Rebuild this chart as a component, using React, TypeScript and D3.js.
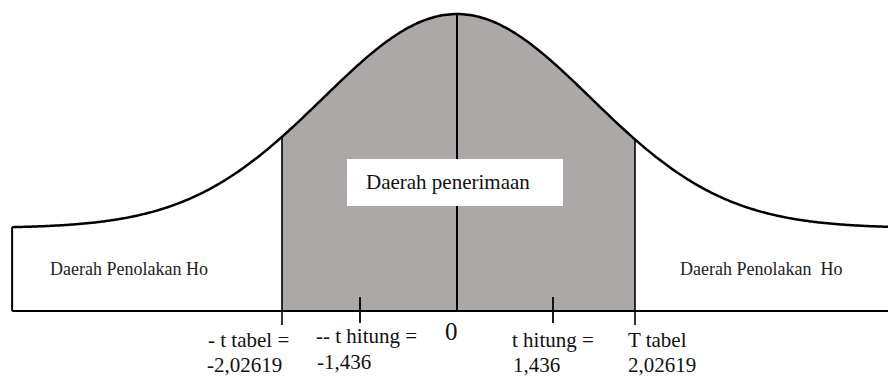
import React from "react";
import * as d3 from "d3";

// critical values (t tabel) and computed value (t hitung)
const tTabel = 2.02619;
const tHitung = 1.436;

const markerValues = [-tTabel, -tHitung, 0, tHitung, tTabel];
const markerTop = ["- t tabel =", "-- t hitung =", "0", "t hitung =", "T tabel"];
const markerBottom = ["-2,02619", "-1,436", "", "1,436", "2,02619"];

const rejectLabel = "Daerah Penolakan Ho";
const rejectLabelRight = "Daerah Penolakan  Ho";
const acceptLabel = "Daerah penerimaan";

// extent of the drawn bell curve, in standard deviations
const zExtent = [-3.32, 3.3];

const W = 888;
const H = 377;
const baseY = 311;
const centerX = 457;
const sigmaPx = 134;

// label layout: x offset of each label's left edge from its tick
const labelDx1 = [-74, -44, -12, -41, -7];
const labelDx2 = [-75, -43, 0, -40, -7];
const labelY1 = [347, 343, 340, 347, 347];
const labelY2 = [372, 369, 0, 372, 372];

const pdf = (z: number) => Math.exp(-(z * z) / 2) / Math.sqrt(2 * Math.PI);

const App = () => {
  // schematic (not to scale) position of the t values along the axis
  const tScale = d3
    .scaleLinear()
    .domain(markerValues)
    .range([282, 360, centerX, 553, 635]);

  const zScale = d3
    .scaleLinear()
    .domain([0, 1])
    .range([centerX, centerX + sigmaPx]);

  const yScale = d3.scaleLinear().domain([0, pdf(0)]).range([228, 14]);

  const curveZ = d3.range(zExtent[0], zExtent[1] + 0.001, 0.02);
  const line = d3
    .line<number>()
    .x((z) => zScale(z))
    .y((z) => yScale(pdf(z)))
    .curve(d3.curveBasis);

  const zLo = zScale.invert(tScale(-tTabel));
  const zHi = zScale.invert(tScale(tTabel));
  const shadeZ = [zLo, ...curveZ.filter((z) => z > zLo && z < zHi), zHi];
  const area = d3
    .area<number>()
    .x((z) => zScale(z))
    .y0(baseY)
    .y1((z) => yScale(pdf(z)));

  const curveAt = (x: number) => yScale(pdf(zScale.invert(x)));
  const leftX = zScale(zExtent[0]);

  const font = "Liberation Serif, DejaVu Serif, serif";

  return (
    <svg
      width={W}
      height={H}
      style={{ position: "absolute", left: 0, top: 0, background: "#fff" }}
    >
      <path d={area(shadeZ) || ""} fill="#aca8a7" />
      <path d={line(curveZ) || ""} fill="none" stroke="#000" strokeWidth={2.5} />

      {/* left rejection box edge */}
      <line x1={leftX} x2={leftX} y1={curveAt(leftX)} y2={baseY} stroke="#000" strokeWidth={2} />
      {/* baseline */}
      <line x1={leftX} x2={W} y1={baseY} y2={baseY} stroke="#000" strokeWidth={2} />

      {/* critical boundaries */}
      {[-tTabel, tTabel].map((t) => (
        <line
          key={t}
          x1={tScale(t)}
          x2={tScale(t)}
          y1={curveAt(tScale(t))}
          y2={325}
          stroke="#000"
          strokeWidth={1.6}
        />
      ))}
      {/* centre line */}
      <line
        x1={tScale(0)}
        x2={tScale(0)}
        y1={yScale(pdf(0))}
        y2={baseY}
        stroke="#000"
        strokeWidth={2}
      />
      {/* t hitung ticks */}
      {[-tHitung, tHitung].map((t) => (
        <line
          key={t}
          x1={tScale(t)}
          x2={tScale(t)}
          y1={297}
          y2={323}
          stroke="#000"
          strokeWidth={1.8}
        />
      ))}

      {/* acceptance label box */}
      <rect x={347} y={159} width={216} height={47} fill="#fff" />
      <text x={366} y={189} fontFamily={font} fontSize={21} fill="#111">
        {acceptLabel}
      </text>

      <text x={50} y={275} fontFamily={font} fontSize={18} fill="#222">
        {rejectLabel}
      </text>
      <text x={680} y={275} fontFamily={font} fontSize={18} fill="#222" style={{ whiteSpace: "pre" }}>
        {rejectLabelRight}
      </text>

      {markerValues.map((t, i) => (
        <g key={i} fontFamily={font} fill="#111">
          <text x={tScale(t) + labelDx1[i]} y={labelY1[i]} fontSize={i === 2 ? 25 : 21}>
            {markerTop[i]}
          </text>
          {markerBottom[i] && (
            <text x={tScale(t) + labelDx2[i]} y={labelY2[i]} fontSize={21}>
              {markerBottom[i]}
            </text>
          )}
        </g>
      ))}
    </svg>
  );
};

export default App;
